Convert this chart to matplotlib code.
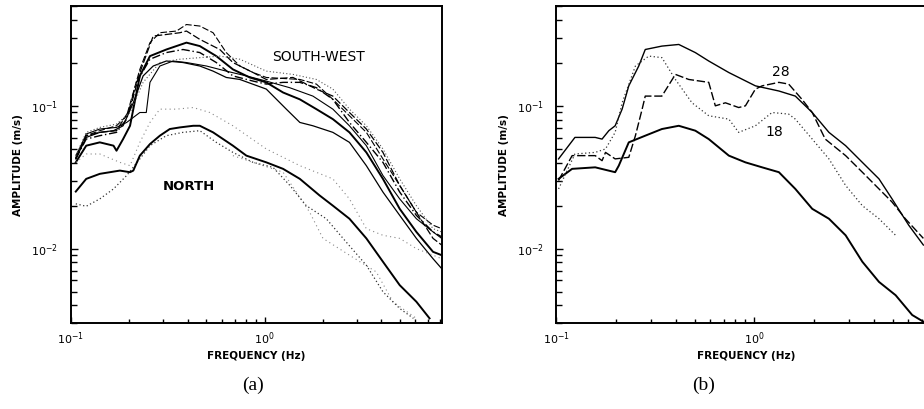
import numpy as np
import matplotlib
matplotlib.use("Agg")
import matplotlib.pyplot as plt
from matplotlib.ticker import LogLocator, NullFormatter

# ---- panel (a): NORTH stations ----
north_f = [0.106, 0.12, 0.141, 0.179, 0.202, 0.21, 0.227, 0.256, 0.288, 0.324, 0.365, 0.428, 0.463,
           0.542, 0.686, 0.805, 1.02, 1.245, 1.52, 1.92, 2.25, 2.74, 3.35, 4.08, 4.98, 6.07, 7.1]
north_a = [0.0251, 0.0308, 0.0334, 0.0352, 0.0343, 0.0352, 0.0448, 0.054, 0.0618, 0.0688, 0.0706, 0.0725, 0.0725,
           0.0652, 0.0526, 0.0448, 0.0402, 0.0362, 0.0308, 0.0236, 0.02, 0.0162, 0.0118, 0.0081, 0.00555, 0.00425, 0.00325]

north_dot_f = [0.106, 0.12, 0.141, 0.166, 0.194, 0.227, 0.256, 0.311, 0.379, 0.463, 0.563, 0.686, 0.872,
               1.105, 1.35, 1.64, 2.08, 2.64, 3.35, 4.08, 4.98, 5.86]
north_dot_a = [0.0206, 0.0198, 0.0223, 0.0262, 0.0325, 0.0425, 0.0526, 0.0618, 0.0652, 0.067, 0.0555, 0.0472, 0.0402,
               0.0371, 0.0277, 0.02, 0.0162, 0.0111, 0.00765, 0.00499, 0.00381, 0.00325]

light1_f = [0.106, 0.12, 0.141, 0.179, 0.202, 0.227, 0.256, 0.288, 0.351, 0.428, 0.521, 0.686, 1.02, 1.52,
            2.25, 2.74, 3.35, 4.08, 4.98, 6.07, 7.4, 8.2]
light1_a = [0.0402, 0.046, 0.046, 0.0402, 0.0381, 0.0555, 0.0765, 0.0948, 0.0948, 0.0973, 0.0898, 0.0725, 0.0499,
            0.0381, 0.0308, 0.0223, 0.0138, 0.0124, 0.0118, 0.01, 0.009, 0.0085]

light2_f = [0.686, 0.872, 1.245, 1.708, 2.0, 2.74, 3.77, 4.59, 6.07]
light2_a = [0.0448, 0.0402, 0.0343, 0.018, 0.0118, 0.009, 0.00687, 0.00425, 0.00325]

# ---- panel (a): SOUTH-WEST stations ----
sw1_f = [0.106, 0.12, 0.141, 0.172, 0.194, 0.21, 0.227, 0.256, 0.288, 0.351, 0.395, 0.463, 0.542, 0.634,
         0.745, 0.872, 1.02, 1.52, 1.85, 2.25, 2.74, 3.35, 4.08, 4.98, 6.07, 7.4, 8.2]
sw1_a = [0.0448, 0.0618, 0.067, 0.0725, 0.0852, 0.124, 0.180, 0.277, 0.325, 0.334, 0.371, 0.362, 0.325, 0.236,
         0.190, 0.171, 0.158, 0.153, 0.142, 0.111, 0.0852, 0.0652, 0.0425, 0.0277, 0.018, 0.0146, 0.0138]

sw2_f = [0.106, 0.12, 0.141, 0.172, 0.202, 0.227, 0.266, 0.311, 0.365, 0.395, 0.463, 0.587, 0.686, 0.872,
         1.02, 1.40, 1.85, 2.25, 2.74, 3.35, 4.08, 4.98, 6.07, 7.4, 8.2]
sw2_a = [0.0425, 0.0618, 0.0652, 0.067, 0.0948, 0.171, 0.308, 0.316, 0.325, 0.334, 0.292, 0.248, 0.201, 0.171,
         0.153, 0.158, 0.131, 0.117, 0.0898, 0.0688, 0.0472, 0.0277, 0.018, 0.0118, 0.0106]

sw3_f = [0.106, 0.12, 0.141, 0.166, 0.172, 0.186, 0.202, 0.227, 0.256, 0.311, 0.395, 0.463, 0.563, 0.686,
         0.838, 1.02, 1.245, 1.52, 1.85, 2.25, 2.74, 3.35, 4.08, 4.98, 6.07, 7.4, 8.2]
sw3_a = [0.0402, 0.0526, 0.0555, 0.0526, 0.0485, 0.0585, 0.0725, 0.162, 0.223, 0.248, 0.277, 0.262, 0.223, 0.180,
         0.158, 0.146, 0.124, 0.111, 0.0948, 0.0807, 0.0652, 0.0472, 0.0308, 0.019, 0.0131, 0.0095, 0.009]

sw4_f = [0.106, 0.12, 0.141, 0.172, 0.194, 0.218, 0.256, 0.311, 0.379, 0.463, 0.563, 0.686, 0.872, 1.02,
         1.245, 1.52, 1.85, 2.25, 2.74, 3.35, 4.08, 4.98, 6.07, 7.4, 8.2]
sw4_a = [0.0425, 0.0585, 0.0618, 0.0652, 0.0807, 0.146, 0.212, 0.236, 0.248, 0.236, 0.201, 0.162, 0.149, 0.142,
         0.146, 0.146, 0.134, 0.111, 0.0765, 0.0555, 0.0402, 0.0249, 0.0171, 0.0131, 0.0121]

sw5_f = [0.106, 0.12, 0.141, 0.166, 0.186, 0.21, 0.236, 0.266, 0.311, 0.379, 0.463, 0.542, 0.634, 0.745,
         1.02, 1.294, 1.52, 1.775, 2.25, 2.74, 3.35, 4.08, 4.98, 6.07, 7.4, 8.2]
sw5_a = [0.0425, 0.0601, 0.0652, 0.067, 0.0725, 0.105, 0.162, 0.190, 0.206, 0.201, 0.190, 0.175, 0.158, 0.153,
         0.131, 0.0948, 0.0765, 0.0725, 0.0652, 0.0555, 0.0381, 0.0249, 0.0171, 0.0118, 0.0085, 0.00725]

sw6_f = [0.106, 0.12, 0.141, 0.172, 0.194, 0.227, 0.245, 0.256, 0.288, 0.337, 0.395, 0.501, 0.634, 0.805,
         1.02, 1.346, 1.775, 2.25, 2.74, 3.35, 4.08, 4.98, 6.07, 7.4, 8.2]
sw6_a = [0.0436, 0.0635, 0.0688, 0.0706, 0.0765, 0.0898, 0.0898, 0.146, 0.190, 0.206, 0.201, 0.190, 0.175, 0.162,
         0.149, 0.134, 0.117, 0.0948, 0.0725, 0.0526, 0.0325, 0.0223, 0.0162, 0.0131, 0.0118]

sw7_f = [0.106, 0.12, 0.141, 0.172, 0.202, 0.236, 0.288, 0.365, 0.463, 0.587, 0.745, 1.02, 1.40, 1.85,
         2.25, 2.74, 3.35, 4.08, 4.98, 6.07, 7.4, 8.2]
sw7_a = [0.0448, 0.0652, 0.0706, 0.0745, 0.0898, 0.146, 0.201, 0.212, 0.2175, 0.223, 0.212, 0.175, 0.166, 0.153,
         0.131, 0.0948, 0.0725, 0.0499, 0.0308, 0.02, 0.0138, 0.0131]

# ---- panel (b) ----
b_low_f = [0.1025, 0.12, 0.157, 0.198, 0.2065, 0.232, 0.281, 0.341, 0.415, 0.503, 0.588, 0.743, 0.901, 1.094,
           1.33, 1.61, 1.96, 2.38, 2.89, 3.51, 4.26, 5.17, 6.27, 7.14]
b_low_a = [0.0308, 0.0362, 0.0371, 0.0343, 0.0381, 0.0555, 0.0618, 0.0688, 0.0725, 0.067, 0.0585, 0.0448, 0.0402, 0.0371,
           0.0343, 0.0262, 0.019, 0.0162, 0.0124, 0.0081, 0.00585, 0.00472, 0.00343, 0.00308]

b_top_f = [0.1025, 0.124, 0.157, 0.170, 0.184, 0.198, 0.2147, 0.232, 0.2605, 0.281, 0.341, 0.415, 0.503, 0.588,
           0.743, 1.012, 1.33, 1.61, 1.96, 2.38, 2.89, 3.51, 4.26, 4.96, 6.02, 7.14]
b_top_a = [0.0425, 0.0601, 0.0601, 0.0585, 0.067, 0.0725, 0.0948, 0.138, 0.190, 0.248, 0.262, 0.269, 0.236, 0.206,
           0.171, 0.138, 0.127, 0.117, 0.0898, 0.0652, 0.0526, 0.0402, 0.0308, 0.0223, 0.0146, 0.0106]

b28_f = [0.1025, 0.12, 0.157, 0.170, 0.177, 0.198, 0.232, 0.2506, 0.271, 0.281, 0.341, 0.399, 0.466, 0.588,
         0.635, 0.714, 0.833, 0.901, 1.012, 1.094, 1.33, 1.49, 1.74, 1.96, 2.28, 2.89, 3.51, 4.26, 4.96, 5.79, 7.14]
b28_a = [0.030, 0.0448, 0.0448, 0.0413, 0.0472, 0.0425, 0.0436, 0.0618, 0.0948, 0.117, 0.117, 0.166, 0.153, 0.146,
         0.100, 0.105, 0.0973, 0.100, 0.131, 0.138, 0.146, 0.142, 0.111, 0.0898, 0.0585, 0.0448, 0.0343, 0.0262,
         0.0212, 0.0162, 0.0118]

b18_f = [0.1025, 0.124, 0.157, 0.177, 0.198, 0.2147, 0.2506, 0.2927, 0.341, 0.399, 0.484, 0.588, 0.743, 0.833,
         1.012, 1.228, 1.49, 1.61, 1.96, 2.38, 2.89, 3.51, 4.26, 5.17]
b18_a = [0.0262, 0.046, 0.0472, 0.0499, 0.0652, 0.105, 0.19, 0.223, 0.2175, 0.153, 0.105, 0.0852, 0.0807, 0.0652,
         0.0725, 0.0898, 0.0875, 0.0807, 0.0585, 0.0425, 0.0277, 0.02, 0.0162, 0.0124]

DASH = (0, (6, 2))
DASHDOT = (0, (6, 2, 1, 2))
DOT = (0, (1, 2))
SPARSE = (0, (1, 3))

fig = plt.figure(figsize=(9.24, 4.09), dpi=100)
axa = fig.add_axes([0.0767, 0.2095, 0.4013, 0.7758])
axb = fig.add_axes([0.6022, 0.2095, 0.410, 0.7758])


def style_axes(ax):
    ax.set_xscale("log")
    ax.set_yscale("log")
    ax.set_xlim(0.1, 8.2)
    ax.set_ylim(0.003, 0.5)
    for s in ax.spines.values():
        s.set_linewidth(1.4)
    ax.yaxis.set_major_locator(LogLocator(base=10))
    ax.yaxis.set_minor_locator(LogLocator(base=10, subs=np.arange(2, 10)))
    ax.xaxis.set_minor_locator(LogLocator(base=10, subs=np.arange(2, 10)))
    ax.xaxis.set_minor_formatter(NullFormatter())
    ax.yaxis.set_minor_formatter(NullFormatter())
    ax.tick_params(which="both", direction="in", top=False, right=False, width=1.0)
    ax.tick_params(axis="y", which="major", length=5, pad=9, labelsize=8)
    ax.tick_params(axis="y", which="minor", length=4)
    ax.tick_params(axis="x", which="major", length=4, pad=5, labelsize=8)
    ax.tick_params(axis="x", which="minor", length=3)
    ax.set_xlabel("FREQUENCY (Hz)", fontsize=7.5, fontweight="bold", labelpad=3)
    ax.set_ylabel("AMPLITUDE (m/s)", fontsize=7.5, fontweight="bold", labelpad=6)


style_axes(axa)
style_axes(axb)

# panel (a)
axa.plot(sw1_f, sw1_a, color="black", lw=0.8, ls=DASH)
axa.plot(sw2_f, sw2_a, color="black", lw=0.9, ls=DASH)
axa.plot(sw3_f, sw3_a, color="black", lw=1.4)
axa.plot(sw4_f, sw4_a, color="black", lw=1.0, ls=DASHDOT)
axa.plot(sw5_f, sw5_a, color="black", lw=0.9)
axa.plot(sw6_f, sw6_a, color="black", lw=0.8)
axa.plot(sw7_f, sw7_a, color="#555555", lw=0.8, ls=DOT)
axa.plot(light1_f, light1_a, color="#888888", lw=0.8, ls=SPARSE)
axa.plot(light2_f, light2_a, color="#888888", lw=0.8, ls=SPARSE)
axa.plot(north_dot_f, north_dot_a, color="#333333", lw=0.9, ls=DOT)
axa.plot(north_f, north_a, color="black", lw=1.4)
axa.text(1.9, 0.219, "SOUTH-WEST", fontsize=10, ha="center", va="center")
axa.text(0.406, 0.0271, "NORTH", fontsize=9.5, fontweight="bold", ha="center", va="center")

# panel (b)
axb.plot(b_low_f, b_low_a, color="black", lw=1.4)
axb.plot(b_top_f, b_top_a, color="black", lw=1.0)
axb.plot(b28_f, b28_a, color="black", lw=1.0, ls=DASH)
axb.plot(b18_f, b18_a, color="#333333", lw=0.9, ls=DOT)
axb.text(1.36, 0.172, "28", fontsize=10, ha="center", va="center")
axb.text(1.256, 0.0655, "18", fontsize=10, ha="center", va="center")

fig.text(253 / 924, 1 - 385 / 409, "(a)", family="Liberation Serif", fontsize=14, ha="center", va="center")
fig.text(704 / 924, 1 - 385 / 409, "(b)", family="Liberation Serif", fontsize=14, ha="center", va="center")

fig.savefig("out.png", dpi=100)
